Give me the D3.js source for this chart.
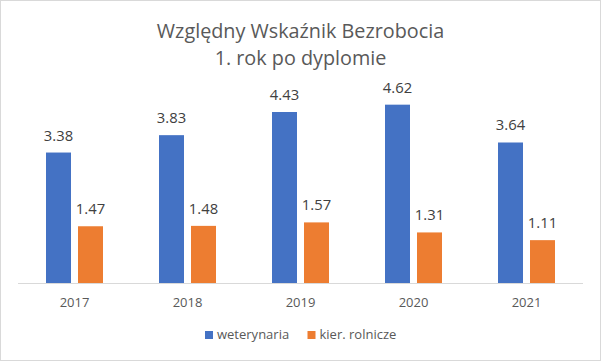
<!DOCTYPE html>
<html><head><meta charset="utf-8">
<script src="https://cdn.jsdelivr.net/npm/d3@7"></script>
<style>
html,body{margin:0;padding:0;background:#fff;}
svg{display:block;font-family:"Open Sans",sans-serif;}
</style></head>
<body>
<svg id="chart" width="601" height="361"></svg>
<script>
const categories = ["2017","2018","2019","2020","2021"];
const seriesNames = ["weterynaria","kier. rolnicze"];
const weterynaria = [3.38,3.83,4.43,4.62,3.64];
const kierRolnicze = [1.47,1.48,1.57,1.31,1.11];
const titleLines = ["Względny Wskaźnik Bezrobocia","1. rok po dyplomie"];
const colors = ["#4472C4","#ED7D31"];

const seriesValues = [weterynaria, kierRolnicze];
const svg = d3.select("#chart");
svg.append("rect").attr("x",0.5).attr("y",0.5).attr("width",600).attr("height",360)
  .attr("fill","#fff").attr("stroke","#d9d9d9");

const x0 = d3.scaleBand().domain(categories).range([18,583]).paddingInner(0.4956).paddingOuter(0.2478);
const x1 = d3.scaleBand().domain(seriesNames).range([0,x0.bandwidth()]).paddingInner(0.21875);
const y = d3.scaleLinear().domain([0,5]).range([283,90]);

const title = svg.append("text").attr("text-anchor","middle").attr("fill","#595959").attr("font-size",19.8);
titleLines.forEach((t,i)=>title.append("tspan").attr("x",300.5).attr("y",38+i*27).text(t));

const groups = svg.selectAll("g.grp").data(categories).join("g").attr("class","grp")
  .attr("transform",d=>`translate(${x0(d)},0)`);
groups.each(function(cat,ci){
  const g = d3.select(this);
  seriesNames.forEach((s,si)=>{
    const v = seriesValues[si][ci];
    g.append("rect").attr("x",x1(s)).attr("y",y(v)).attr("width",x1.bandwidth())
      .attr("height",y(0)-y(v)).attr("fill",colors[si]);
    g.append("text").attr("x",x1(s)+x1.bandwidth()/2).attr("y",y(v)-12)
      .attr("text-anchor","middle").attr("fill","#404040").attr("font-size",14.8)
      .text(v.toFixed(2));
  });
});

const xAxis = svg.append("g").attr("transform","translate(0,283)")
  .call(d3.axisBottom(x0).tickSize(0).tickPadding(0));
xAxis.select(".domain").attr("stroke","#d9d9d9").attr("d","M18,0.5H583");
xAxis.selectAll("text").attr("y",24).attr("dy",0).attr("fill","#595959")
  .attr("font-size",13).attr("font-family","Open Sans");

const legendX = [205, 307.5];
const legend = svg.selectAll("g.leg").data(seriesNames).join("g").attr("class","leg")
  .attr("transform",(d,i)=>`translate(${legendX[i]},0)`);
legend.append("rect").attr("x",0).attr("y",331).attr("width",8).attr("height",8).attr("fill",(d,i)=>colors[i]);
legend.append("text").attr("x",12).attr("y",339).attr("fill","#595959").attr("font-size",13).text(d=>d);
</script>
</body></html>
